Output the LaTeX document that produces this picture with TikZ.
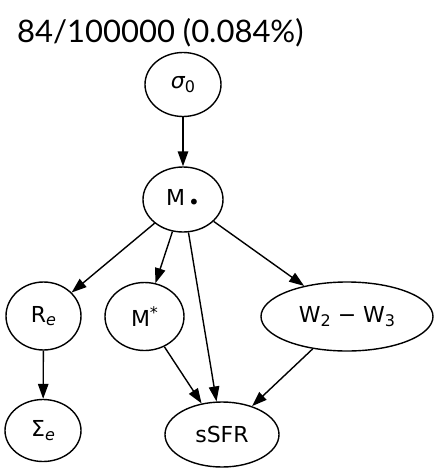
\documentclass[tikz,border=0pt]{standalone}
\usepackage{fontspec}
\setmainfont{DejaVu Sans}
\newfontfamily\titlefont{Lato}
\newfontfamily\obl{DejaVu Sans Oblique}
\usetikzlibrary{shapes.geometric,arrows.meta}
\newcommand{\lsub}[1]{\raisebox{-3.5pt}{\fontsize{16}{16}\selectfont #1}}
\begin{document}
\begin{tikzpicture}[x=1pt,y=-1pt,
  nd/.style={draw,line width=1.4pt,ellipse,inner sep=0pt,font=\fontsize{22}{22}\selectfont},
  edge/.style={line width=1.4pt,-{Triangle[length=15pt,width=10.5pt]}}]
\useasboundingbox (0,0) rectangle (438,475);
\node[anchor=base west,font=\titlefont\fontsize{31}{31}\selectfont,inner sep=0pt] (title) at (17,42) {84/100000 (0.084\%)};
\node[nd,minimum width=76pt,minimum height=64pt] (s0) at (183,84.5) {{\obl σ}\lsub{0}};
\node[nd,minimum width=80pt,minimum height=65pt] (M) at (183,199.5) {M\hspace{3pt}\raisebox{-3.5pt}{\fontsize{20}{20}\selectfont •}};
\node[nd,minimum width=75pt,minimum height=68pt] (Re) at (43.5,316) {R\lsub{\obl e}};
\node[nd,minimum width=79pt,minimum height=68pt] (Ms) at (144.5,316.5) {M\raisebox{8pt}{\fontsize{16}{16}\selectfont *}};
\node[nd,minimum width=172pt,minimum height=69pt] (W) at (347,316.5) {W\lsub{2}\hspace{7pt}−\hspace{7pt}W\lsub{3}};
\node[nd,minimum width=76pt,minimum height=62pt] (Se) at (43,430.5) {Σ\lsub{\obl e}};
\node[nd,minimum width=114pt,minimum height=65pt] (sSFR) at (222,434.5) {sSFR};
\draw[edge] (s0) -- (M);
\draw[edge] (M) -- (Re);
\draw[edge] (M) -- (Ms);
\draw[edge] (M) -- (sSFR);
\draw[edge] (M) -- (W);
\draw[edge] (Ms) -- (sSFR);
\draw[edge] (W) -- (sSFR);
\draw[edge] (Re) -- (Se);
\end{tikzpicture}
\end{document}
